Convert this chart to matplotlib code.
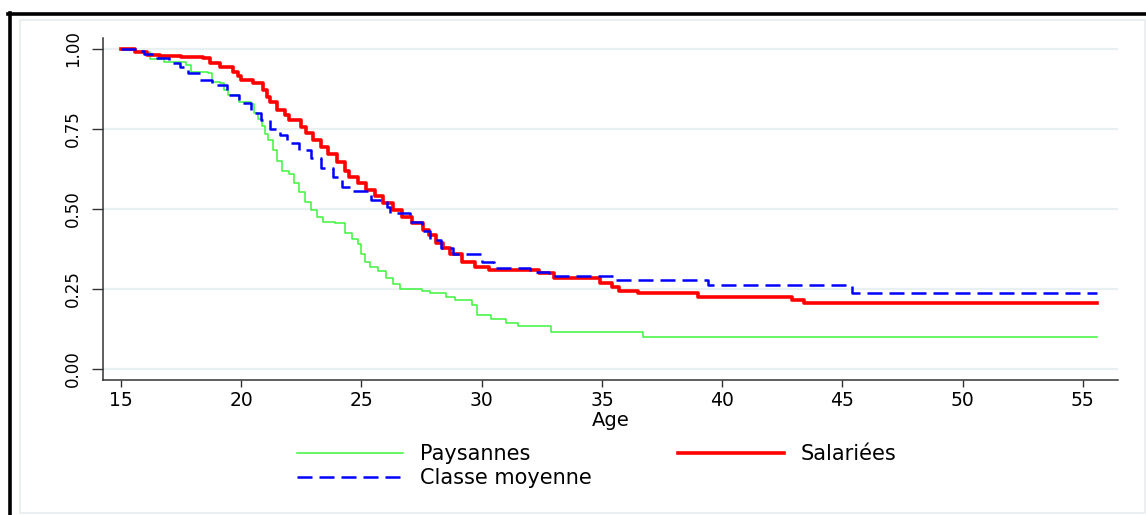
import matplotlib
matplotlib.use("Agg")
import matplotlib.pyplot as plt
from matplotlib.lines import Line2D
from matplotlib.patches import Rectangle

# Kaplan-Meier type survival curves (age, S(age))
pays_age = [15.0, 15.6, 16.2, 16.8, 17.7, 17.9, 18.6, 18.8, 19.1, 19.3, 19.45,
            19.9, 20.4, 20.55, 20.7, 20.85, 21.0, 21.1, 21.3, 21.5, 21.7, 22.0,
            22.2, 22.4, 22.65, 22.9, 23.15, 23.4, 23.9, 24.3, 24.6, 24.85, 25.0,
            25.15, 25.35, 25.7, 26.0, 26.3, 26.6, 27.5, 27.85, 28.5, 28.9, 29.6,
            29.8, 30.4, 31.0, 31.5, 32.9, 36.7, 55.6]
pays_surv = [1.000, 0.990, 0.968, 0.960, 0.950, 0.928, 0.925, 0.897, 0.894, 0.872, 0.856,
             0.834, 0.828, 0.800, 0.780, 0.758, 0.735, 0.716, 0.684, 0.650, 0.620, 0.608,
             0.580, 0.552, 0.522, 0.497, 0.475, 0.460, 0.455, 0.425, 0.405, 0.390, 0.360,
             0.335, 0.318, 0.305, 0.285, 0.265, 0.250, 0.245, 0.237, 0.225, 0.215, 0.200,
             0.170, 0.155, 0.145, 0.134, 0.116, 0.100, 0.100]

sal_age = [15.0, 15.6, 16.1, 16.6, 17.5, 18.4, 18.7, 19.1, 19.65, 19.85, 20.0,
           20.5, 20.9, 21.05, 21.2, 21.5, 21.8, 22.0, 22.5, 22.7, 23.0, 23.3,
           23.6, 24.0, 24.3, 24.5, 24.85, 25.2, 25.55, 25.9, 26.3, 26.7, 27.1,
           27.55, 27.8, 28.1, 28.4, 28.7, 29.2, 29.7, 30.3, 32.4, 33.0, 34.9,
           35.4, 35.7, 36.5, 39.0, 42.9, 43.4, 55.6]
sal_surv = [1.000, 0.990, 0.982, 0.978, 0.975, 0.970, 0.956, 0.944, 0.928, 0.915, 0.903,
            0.894, 0.872, 0.850, 0.834, 0.810, 0.792, 0.778, 0.755, 0.738, 0.716, 0.694,
            0.672, 0.647, 0.620, 0.600, 0.580, 0.560, 0.540, 0.519, 0.497, 0.475, 0.455,
            0.434, 0.418, 0.395, 0.378, 0.360, 0.334, 0.320, 0.309, 0.300, 0.284, 0.270,
            0.255, 0.245, 0.2375, 0.225, 0.216, 0.206, 0.206]

cm_age = [15.0, 15.8, 15.95, 16.5, 17.0, 17.45, 17.8, 18.3, 18.8, 19.4, 19.9,
          20.4, 20.8, 21.2, 21.6, 21.9, 22.4, 22.9, 23.3, 23.8, 24.2, 24.65,
          25.4, 26.05, 26.2, 27.0, 27.5, 27.85, 28.3, 28.8, 30.0, 30.5, 32.0,
          32.8, 35.5, 39.4, 45.4, 55.6]
cm_surv = [1.000, 0.993, 0.985, 0.970, 0.956, 0.944, 0.925, 0.903, 0.888, 0.856, 0.830,
           0.800, 0.778, 0.750, 0.730, 0.706, 0.684, 0.660, 0.628, 0.600, 0.569, 0.555,
           0.528, 0.506, 0.487, 0.460, 0.430, 0.403, 0.378, 0.358, 0.334, 0.315, 0.303,
           0.290, 0.278, 0.2625, 0.2375, 0.2375]

x_ticks = [15, 20, 25, 30, 35, 40, 45, 50, 55]
y_ticks = [0.0, 0.25, 0.5, 0.75, 1.0]
y_ticklabels = ["0.00", "0.25", "0.50", "0.75", "1.00"]

W, H = 1146, 515
plt.rcParams['font.family'] = ['DejaVu Sans']

fig = plt.figure(figsize=(W / 100, H / 100), dpi=100)

# frame lines around the graph region
fig.add_artist(Rectangle((20 / W, 2 / H), 1125 / W, 493 / H, transform=fig.transFigure,
                         fill=False, edgecolor='#e6edef', lw=1.2))
fig.add_artist(Line2D([8 / W, 1.0], [1 - 14 / H, 1 - 14 / H], transform=fig.transFigure,
                      color='black', lw=2.6))
fig.add_artist(Line2D([9.5 / W, 9.5 / W], [0, 1 - 13 / H], transform=fig.transFigure,
                      color='black', lw=2.6))

ax = fig.add_axes([103 / W, 1 - 380 / H, (1118 - 103) / W, (380 - 38) / H])

ax.plot(pays_age, pays_surv, drawstyle='steps-post', color='#3cf53c', lw=1.1,
        label='Paysannes')
ax.plot(sal_age, sal_surv, drawstyle='steps-post', color='#ff0000', lw=2.6,
        label='Salariées')
ax.plot(cm_age, cm_surv, drawstyle='steps-post', color='#0000ff', lw=1.8,
        linestyle=(0, (6, 2.8)), label='Classe moyenne')

ax.set_xlim(14.25, 56.46)
ax.set_ylim(-0.034, 1.034)
ax.set_xticks(x_ticks)
ax.set_yticks(y_ticks)
ax.set_yticklabels(y_ticklabels, rotation=90, va='center')

for s in ['top', 'right']:
    ax.spines[s].set_visible(False)
for s in ['left', 'bottom']:
    ax.spines[s].set_color('#333333')
    ax.spines[s].set_linewidth(1.1)

ax.tick_params(axis='x', length=5, width=1, color='#333333', labelsize=13.5, pad=3)
ax.tick_params(axis='y', length=8, width=1, color='#333333', labelsize=12, pad=7)
ax.yaxis.grid(True, color='#e9f0f2', lw=1.6)
ax.set_axisbelow(True)

ax.set_xlabel('Age', fontsize=14, labelpad=1)

h = ax.get_legend_handles_labels()[0]
fig.legend([h[0], h[2], h[1]], ['Paysannes', 'Classe moyenne', 'Salariées'],
           loc='upper left', bbox_to_anchor=(297 / W, 1 - 444 / H), ncol=2,
           frameon=False, fontsize=15, borderpad=0, borderaxespad=0,
           handlelength=5.1, handletextpad=0.8, columnspacing=4.15,
           labelspacing=0.2)

fig.savefig('out.png', dpi=100)
